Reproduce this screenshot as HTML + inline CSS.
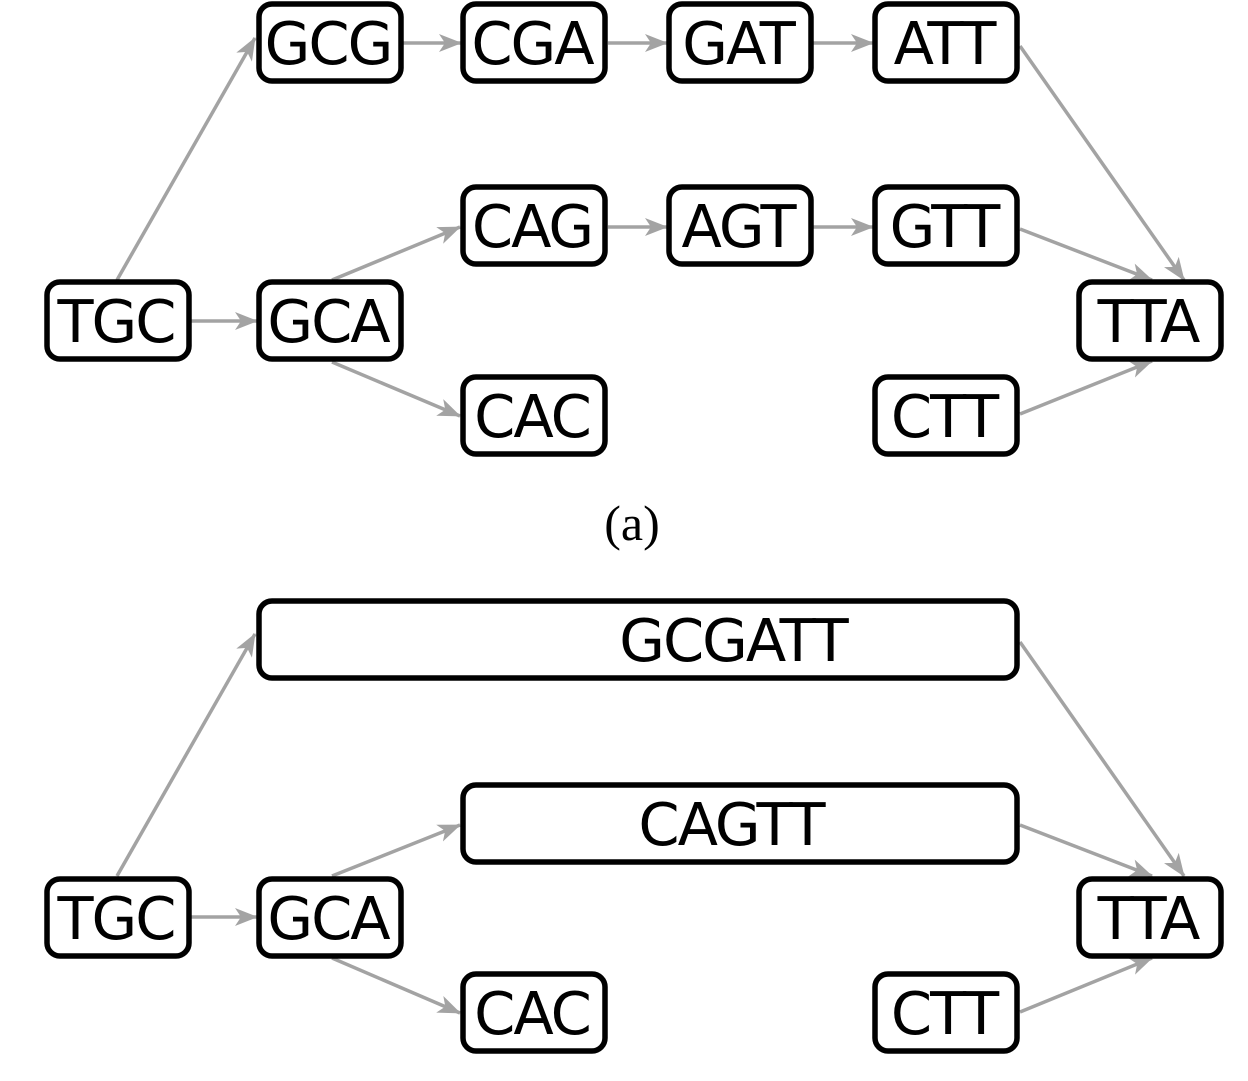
<!DOCTYPE html>
<html><head><style>
html,body{margin:0;padding:0;background:#fff;}
svg text{font-family:"DejaVu Sans","Liberation Sans",sans-serif;font-size:59px;letter-spacing:-2px;text-anchor:middle;fill:#000;}
</style></head><body>
<svg width="1248" height="1076" viewBox="0 0 1248 1076" xmlns="http://www.w3.org/2000/svg">
<defs>
<marker id="a" markerWidth="24" markerHeight="20" refX="22" refY="10" orient="auto" markerUnits="userSpaceOnUse">
<path d="M0,1 L23,10 L0,19 L6,10 Z" fill="#a3a3a3"/>
</marker>
</defs>
<g stroke="#a3a3a3" stroke-width="3.5" fill="none" marker-end="url(#a)">
<line x1="117" y1="280" x2="255" y2="38"/>
<line x1="190" y1="321" x2="257" y2="321"/>
<line x1="403" y1="43" x2="461" y2="43"/>
<line x1="608" y1="43" x2="667" y2="43"/>
<line x1="813" y1="43" x2="873" y2="43"/>
<line x1="1020" y1="46" x2="1184" y2="280"/>
<line x1="332" y1="280" x2="460" y2="227"/>
<line x1="332" y1="362" x2="460" y2="416"/>
<line x1="608" y1="227" x2="667" y2="227"/>
<line x1="813" y1="227" x2="873" y2="227"/>
<line x1="1020" y1="229" x2="1152" y2="280"/>
<line x1="1020" y1="414" x2="1152" y2="361"/>
<line x1="117" y1="876" x2="255" y2="634"/>
<line x1="190" y1="917" x2="257" y2="917"/>
<line x1="1020" y1="642" x2="1184" y2="876"/>
<line x1="332" y1="876" x2="460" y2="825"/>
<line x1="332" y1="958" x2="460" y2="1013"/>
<line x1="1020" y1="825" x2="1152" y2="876"/>
<line x1="1020" y1="1012" x2="1152" y2="958"/>
</g>
<g stroke="#000" stroke-width="5.5" fill="#fff">
<rect x="47" y="282" width="142" height="77" rx="13"/>
<rect x="259" y="4" width="142" height="77" rx="13"/>
<rect x="463" y="4" width="142" height="77" rx="13"/>
<rect x="669" y="4" width="142" height="77" rx="13"/>
<rect x="875" y="4" width="142" height="77" rx="13"/>
<rect x="259" y="282" width="142" height="77" rx="13"/>
<rect x="463" y="187" width="142" height="77" rx="13"/>
<rect x="669" y="187" width="142" height="77" rx="13"/>
<rect x="875" y="187" width="142" height="77" rx="13"/>
<rect x="463" y="377" width="142" height="77" rx="13"/>
<rect x="875" y="377" width="142" height="77" rx="13"/>
<rect x="1079" y="282" width="142" height="77" rx="13"/>
<rect x="259" y="601" width="758" height="77" rx="13"/>
<rect x="463" y="785" width="554" height="77" rx="13"/>
<rect x="47" y="879" width="142" height="77" rx="13"/>
<rect x="259" y="879" width="142" height="77" rx="13"/>
<rect x="463" y="974" width="142" height="77" rx="13"/>
<rect x="875" y="974" width="142" height="77" rx="13"/>
<rect x="1079" y="879" width="142" height="77" rx="13"/>
</g>
<g>
<text x="116" y="342">TGC</text>
<text x="328" y="64">GCG</text>
<text x="532" y="64">CGA</text>
<text x="738" y="64">GAT</text>
<text x="944" y="64">ATT</text>
<text x="328" y="342">GCA</text>
<text x="532" y="247">CAG</text>
<text x="738" y="247">AGT</text>
<text x="944" y="247">GTT</text>
<text x="532" y="437">CAC</text>
<text x="944" y="437">CTT</text>
<text x="1148" y="342">TTA</text>
<text x="733" y="661">GCGATT</text>
<text x="731" y="845">CAGTT</text>
<text x="116" y="939">TGC</text>
<text x="328" y="939">GCA</text>
<text x="532" y="1034">CAC</text>
<text x="944" y="1034">CTT</text>
<text x="1148" y="939">TTA</text>
</g>
<text x="632" y="540" style="font-family:'Liberation Serif',serif;font-size:50px;letter-spacing:0">(a)</text>
</svg>
</body></html>
